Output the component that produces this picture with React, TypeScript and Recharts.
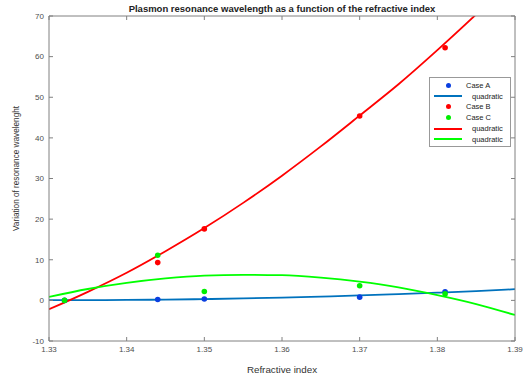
import {
  ComposedChart,
  Line,
  Scatter,
  XAxis,
  YAxis,
  Label,
} from 'recharts'

// fitted-curve sample positions
const fitX = [1.33, 1.335, 1.34, 1.345, 1.35, 1.355, 1.36, 1.365, 1.37, 1.375, 1.38, 1.385, 1.39]
const fitA = [0.05, 0.06, 0.1, 0.19, 0.31, 0.48, 0.68, 0.93, 1.21, 1.54, 1.9, 2.3, 2.75]
const fitB = [-2.2, 2.1, 6.8, 12.1, 17.8, 24.0, 30.7, 37.9, 45.5, 53.2, 61.6, 70.4, 79.5]
const fitC = [0.85, 2.8, 4.3, 5.4, 6.1, 6.3, 6.2, 5.6, 4.6, 3.2, 1.3, -0.9, -3.6]

// measured points
const caseAX = [1.332, 1.344, 1.35, 1.37, 1.381]
const caseAY = [0, 0.2, 0.35, 0.8, 2.1]
const caseBX = [1.344, 1.35, 1.37, 1.381]
const caseBY = [9.3, 17.6, 45.4, 62.2]
const caseCX = [1.332, 1.344, 1.35, 1.37, 1.381]
const caseCY = [0, 11.1, 2.2, 3.6, 1.6]

const xTicks = [1.33, 1.34, 1.35, 1.36, 1.37, 1.38, 1.39]
const yTicks = [-10, 0, 10, 20, 30, 40, 50, 60, 70]

const legendItems = [
  { label: 'Case A', kind: 'dot', color: '#0a3fe0' },
  { label: 'quadratic', kind: 'line', color: '#0072bd' },
  { label: 'Case B', kind: 'dot', color: '#ff0000' },
  { label: 'Case C', kind: 'dot', color: '#00ee00' },
  { label: 'quadratic', kind: 'line', color: '#ff0000' },
  { label: 'quadratic', kind: 'line', color: '#00ff00' },
]

const zip = (xs: number[], ys: number[]) => xs.map((x, i) => ({ x, y: ys[i] }))

const FONT = '"Liberation Sans", Arial, sans-serif'
const AXIS = '#808080'
const TICK_TEXT = '#4d4d4d'

const dot = (color: string) => (props: any) => (
  <circle cx={props.cx} cy={props.cy} r={2.8} fill={color} />
)

function LegendBox() {
  return (
    <div
      style={{
        position: 'absolute',
        left: 429,
        top: 77,
        width: 82,
        height: 70,
        border: '1px solid #999',
        background: '#fff',
        boxSizing: 'border-box',
        paddingTop: 2,
        fontFamily: FONT,
        fontSize: 7.5,
        color: '#222',
      }}
    >
      {legendItems.map((it, i) => (
        <div key={i} style={{ display: 'flex', alignItems: 'center', height: 10.8 }}>
          <div style={{ width: 36, display: 'flex', justifyContent: 'center', alignItems: 'center' }}>
            {it.kind === 'dot' ? (
              <div style={{ width: 5, height: 5, borderRadius: 3, background: it.color }} />
            ) : (
              <div style={{ width: 28, height: 2, background: it.color }} />
            )}
          </div>
          <span style={{ marginLeft: it.kind === 'line' ? 6 : 0 }}>{it.label}</span>
        </div>
      ))}
    </div>
  )
}

export default function App() {
  return (
    <div style={{ position: 'absolute', left: 0, top: 0, width: 526, height: 378, background: '#fff' }}>
      <div
        style={{
          position: 'absolute',
          left: 0,
          top: 3,
          width: 564,
          textAlign: 'center',
          fontFamily: FONT,
          fontWeight: 'bold',
          fontSize: 9.5,
          color: '#222',
        }}
      >
        Plasmon resonance wavelength as a function of the refractive index
      </div>
      <ComposedChart width={526} height={378} margin={{ top: 15, right: 10, bottom: 0, left: 0 }}>
        <XAxis
          xAxisId="b"
          type="number"
          dataKey="x"
          domain={[1.33, 1.39]}
          ticks={xTicks}
          allowDataOverflow
          height={37}
          stroke={AXIS}
          tickSize={-4}
          tickMargin={9}
          tick={{ fill: TICK_TEXT, fontSize: 8, fontFamily: FONT }}
          tickFormatter={(v: number) => v.toFixed(2)}
        >
          <Label
            value="Refractive index"
            position="insideBottom"
            offset={5}
            style={{ fill: '#333', fontSize: 9.8, fontFamily: FONT }}
          />
        </XAxis>
        <XAxis
          xAxisId="t"
          orientation="top"
          type="number"
          dataKey="x"
          domain={[1.33, 1.39]}
          ticks={xTicks}
          allowDataOverflow
          height={1}
          stroke={AXIS}
          tickSize={-4}
          tickFormatter={() => ''}
        />
        <YAxis
          yAxisId="l"
          type="number"
          domain={[-10, 70]}
          ticks={yTicks}
          allowDataOverflow
          width={49}
          stroke={AXIS}
          tickSize={-4}
          tickMargin={9}
          tick={{ fill: TICK_TEXT, fontSize: 8, fontFamily: FONT }}
        >
          <Label
            value="Variation of resonance wavelenght"
            angle={-90}
            position="insideLeft"
            offset={16}
            dy={-10}
            style={{ textAnchor: 'middle', fill: '#333', fontSize: 8.2, fontFamily: FONT }}
          />
        </YAxis>
        <YAxis
          yAxisId="r"
          orientation="right"
          type="number"
          domain={[-10, 70]}
          ticks={yTicks}
          allowDataOverflow
          width={1}
          stroke={AXIS}
          tickSize={-4}
          tickFormatter={() => ''}
        />
        {/* invisible series so the top and right frame axes get drawn */}
        <Line
          xAxisId="t"
          yAxisId="r"
          data={zip(fitX, fitA)}
          dataKey="y"
          stroke="none"
          dot={false}
          activeDot={false}
          isAnimationActive={false}
          legendType="none"
        />
        <Scatter
          xAxisId="b"
          yAxisId="l"
          data={zip(caseAX, caseAY)}
          dataKey="y"
          shape={dot('#0a3fe0')}
          isAnimationActive={false}
        />
        <Line
          xAxisId="b"
          yAxisId="l"
          data={zip(fitX, fitA)}
          dataKey="y"
          type="monotone"
          stroke="#0072bd"
          strokeWidth={1.8}
          dot={false}
          isAnimationActive={false}
        />
        <Scatter
          xAxisId="b"
          yAxisId="l"
          data={zip(caseBX, caseBY)}
          dataKey="y"
          shape={dot('#ff0000')}
          isAnimationActive={false}
        />
        <Scatter
          xAxisId="b"
          yAxisId="l"
          data={zip(caseCX, caseCY)}
          dataKey="y"
          shape={dot('#00ee00')}
          isAnimationActive={false}
        />
        <Line
          xAxisId="b"
          yAxisId="l"
          data={zip(fitX, fitB)}
          dataKey="y"
          type="monotone"
          stroke="#ff0000"
          strokeWidth={1.8}
          dot={false}
          isAnimationActive={false}
        />
        <Line
          xAxisId="b"
          yAxisId="l"
          data={zip(fitX, fitC)}
          dataKey="y"
          type="monotone"
          stroke="#00ff00"
          strokeWidth={1.8}
          dot={false}
          isAnimationActive={false}
        />
      </ComposedChart>
      <LegendBox />
    </div>
  )
}
